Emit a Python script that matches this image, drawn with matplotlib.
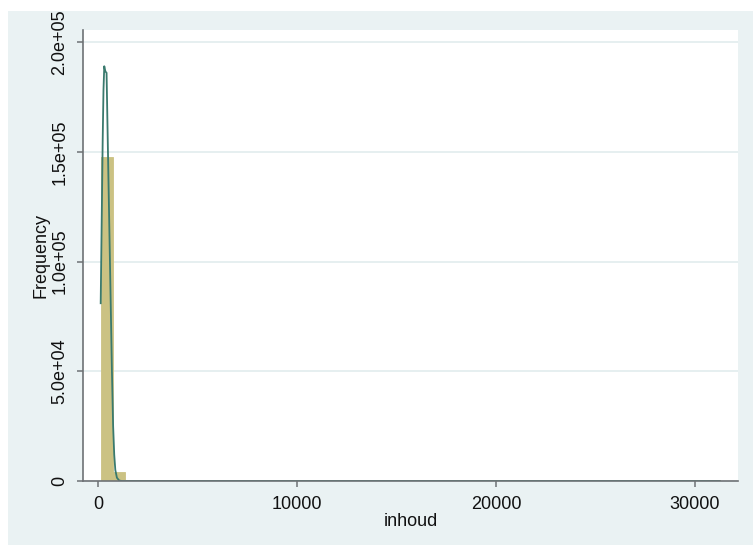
import numpy as np
import matplotlib
matplotlib.use("Agg")
import matplotlib.pyplot as plt
from matplotlib.patches import Rectangle

# ---- data ----
data_min = 130
data_max = 31240
counts = [147700, 4200, 600, 350, 300, 250, 0, 0, 0, 0,
          0, 0, 0, 0, 0, 0, 0, 0, 0, 0,
          0, 0, 0, 0, 0, 0, 0, 0, 0, 0,
          0, 0, 0, 0, 0, 0, 0, 0, 0, 0,
          0, 0, 0, 0, 0, 0, 300, 0, 0, 0, 300]
kde_x = [135, 185, 235, 275, 315, 345, 380, 430, 500, 550, 600, 650, 700,
         760, 815, 870, 950, 1065, 1200, 31240]
kde_y = [81000, 118000, 155000, 178000, 189000, 187500, 186500, 186000,
         150000, 125000, 100000, 75000, 50000, 25000, 12000, 5000, 1500,
         200, 0, 0]
xticks = [0, 10000, 20000, 30000]
xticklabels = ["0", "10000", "20000", "30000"]
yticks = [0, 50000, 100000, 150000, 200000]
yticklabels = ["0", "5.0e+04", "1.0e+05", "1.5e+05", "2.0e+05"]

plt.rcParams['font.family'] = ['Liberation Sans', 'DejaVu Sans']

W, H = 753, 546
fig = plt.figure(figsize=(W / 100, H / 100), dpi=100, facecolor="white")
bg = "#eaf2f3"
fig.add_artist(Rectangle((8 / W, 1 - 545 / H), 1 - 8 / W, (545 - 11) / H,
                         transform=fig.transFigure, facecolor=bg,
                         edgecolor="none", zorder=-5))

ax = fig.add_axes([83 / W, 1 - 481 / H, (738 - 83) / W, (481 - 30) / H])
ax.set_zorder(1)
ax.set_facecolor("white")

edges = np.linspace(data_min, data_max, len(counts) + 1)
ax.bar(edges[:-1], counts, width=np.diff(edges), align="edge",
       color="#cbc283", edgecolor="#cbc283", linewidth=0.6, zorder=2)
ax.plot(kde_x, kde_y, color="#3a7a6e", linewidth=1.3, zorder=3)

ax.set_xlim(-754, 32160)
ax.set_ylim(0, 205500)
ax.set_xticks(xticks)
ax.set_xticklabels(xticklabels)
ax.set_yticks(yticks)
ax.set_yticklabels(yticklabels, rotation=90, va="center")

ax.grid(axis="y", color="#e4eeef", linewidth=1.3, zorder=1)
ax.set_axisbelow(True)

for s in ["top", "right"]:
    ax.spines[s].set_visible(False)
for s in ["left", "bottom"]:
    ax.spines[s].set_color("#6e7275")
    ax.spines[s].set_linewidth(1.2)
ax.spines["bottom"].set_zorder(4)

ax.tick_params(axis="both", direction="out", length=4.5, width=1.1,
               color="#6e7275", labelsize=13, labelcolor="#111111")
ax.tick_params(axis="x", pad=6)
ax.tick_params(axis="y", pad=6)

ax.set_xlabel("inhoud", fontsize=13, color="#111111")
ax.xaxis.label.set_va("center")
ax.xaxis.set_label_coords(0.5, (481 - 521) / (481 - 30))
ax.set_ylabel("Frequency", fontsize=13, color="#111111")
ax.yaxis.label.set_va("center")
ax.yaxis.set_label_coords((41 - 83) / (738 - 83), (481 - 256) / (481 - 30))

fig.savefig("out.png", dpi=100, facecolor="white")
